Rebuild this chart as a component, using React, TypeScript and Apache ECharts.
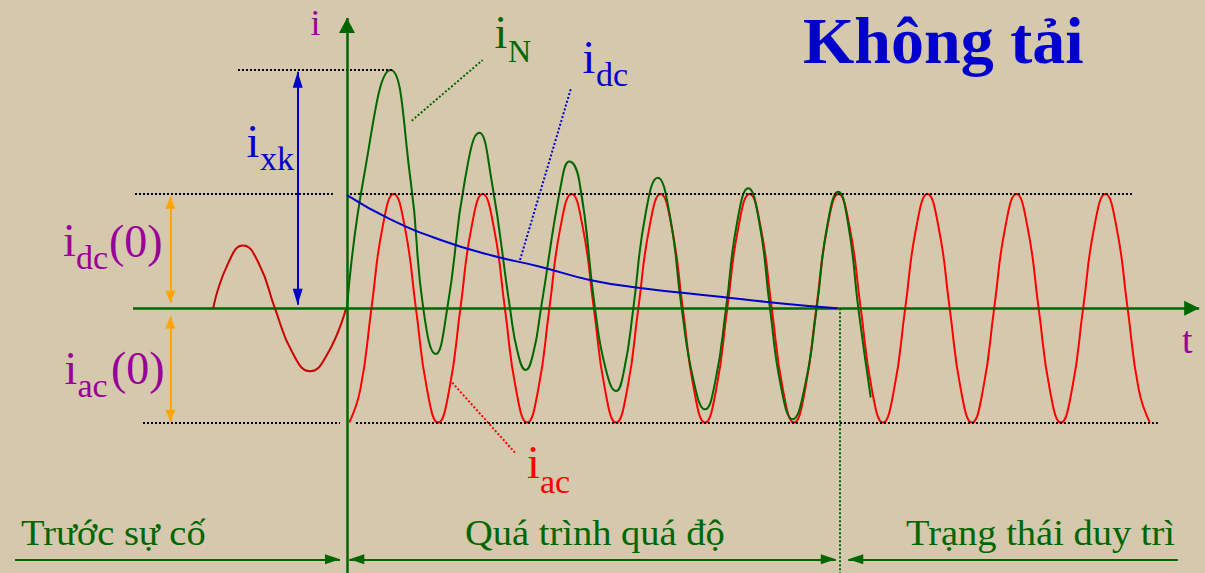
import { useEffect, useRef } from "react";
import * as echarts from "echarts";

// Time axis in ms (one period of the 50 Hz wave = 20 ms), current in per-unit of the AC amplitude.

// Load current before the fault
const preFaultTime = [-30.1, -26.75, -23.4, -19.8, -16.2, -12.25, -8.3, -4.25, -0.2];
const preFaultValue = [0, 0.39, 0.55, 0.39, 0, -0.39, -0.55, -0.39, 0];

// Symmetrical AC component i_ac
const iacTime = [
  0.5, 3, 5.5, 8, 10.5, 13, 15.5, 18, 20.5, 23, 25.5, 28, 30.5, 33, 35.5, 38, 40.5, 43, 45.5, 48, 50.5, 53,
  55.5, 58, 60.5, 63, 65.5, 68, 70.5, 73, 75.5, 78, 80.5, 83, 85.5, 88, 90.5, 93, 95.5, 98, 100.5, 103, 105.5,
  108, 110.5, 113, 115.5, 118, 120.5, 123, 125.5, 128, 130.5, 133, 135.5, 138, 140.5, 143, 145.5, 148, 150.5,
  153, 155.5, 158, 160.5, 163, 165.5, 168, 170.5, 173, 175.5, 178, 180.5,
];
const iacValue = [
  -1, -0.71, 0, 0.71, 1, 0.71, 0, -0.71,
  -1, -0.71, 0, 0.71, 1, 0.71, 0, -0.71,
  -1, -0.71, 0, 0.71, 1, 0.71, 0, -0.71,
  -1, -0.71, 0, 0.71, 1, 0.71, 0, -0.71,
  -1, -0.71, 0, 0.71, 1, 0.71, 0, -0.71,
  -1, -0.71, 0, 0.71, 1, 0.71, 0, -0.71,
  -1, -0.71, 0, 0.71, 1, 0.71, 0, -0.71,
  -1, -0.71, 0, 0.71, 1, 0.71, 0, -0.71,
  -1, -0.71, 0, 0.71, 1, 0.71, 0, -0.71,
  -1,
];

// Total short-circuit current i_N
const iNTime = [
  0, 3.66, 9.82, 14.3, 17.15, 19.94, 22.55, 26.5, 29.74, 32.5, 36.65, 38.4, 40.18, 41.9, 43.62, 48.3, 49.98,
  52.2, 55.76, 58.1, 60.48, 62.4, 64.37, 67.1, 69.85, 72.55, 75.25, 77.9, 80.49, 82.85, 85.21, 87.7, 90.22,
  92.7, 95.1, 97.6, 100.2, 102.9, 105.6, 108, 110.45, 112.7, 114.96, 117.74,
];
const iNValue = [
  0, 1.12, 2.085, 1.12, 0, -0.4, 0, 1.12, 1.536, 1.12, 0, -0.39, -0.54, -0.39, 0, 1.12, 1.283, 1.12, 0, -0.52,
  -0.724, -0.52, 0, 0.82, 1.143, 0.82, 0, -0.63, -0.884, -0.63, 0, 0.75, 1.05, 0.75, 0, -0.69, -0.971, -0.69, 0,
  0.73, 1.02, 0.73, 0, -0.779,
];

// Decaying DC component i_dc
const idcTime = [0, 9.67, 20.9, 32.15, 43.4, 54.6, 65.9, 83.9, 98.9, 110.2];
const idcValue = [0.99, 0.78, 0.6, 0.466, 0.364, 0.248, 0.178, 0.1, 0.038, 0];

const X_MIN = -78.01;
const X_MAX = 192.9;
const Y_MIN = -2.316;
const Y_MAX = 2.697;

const FONT = "'Liberation Serif', 'Times New Roman', serif";
const GREEN = "#006600";
const BLUE = "#0000CC";
const PURPLE = "#990099";
const RED = "#FF0000";
const ORANGE = "#FFA500";
const BG = "#D6C8AD";

const zip = (xs: number[], ys: number[]) => xs.map((x, i) => [x, ys[i]]);

type Pt = [number, number];

function seg(
  a: Pt,
  b: Pt,
  color: string,
  width: number,
  type: any,
  startHead?: [number, number],
  endHead?: [number, number]
) {
  return [
    {
      coord: a,
      symbol: startHead ? "triangle" : "none",
      symbolSize: startHead || 0,
      symbolOffset: [0, "50%"],
      lineStyle: { color, width, type, cap: "butt" },
    },
    {
      coord: b,
      symbol: endHead ? "triangle" : "none",
      symbolSize: endHead || 0,
      symbolOffset: [0, "50%"],
    },
  ];
}

function label(
  text: string,
  x: number,
  baseline: number,
  size: number,
  fill: string,
  weight = "normal",
  scaleX = 1
) {
  return {
    type: "text",
    x,
    y: baseline - 0.34 * size,
    scaleX,
    silent: true,
    style: {
      text,
      fill,
      fontSize: size,
      fontFamily: FONT,
      fontWeight: weight,
      align: "left",
      verticalAlign: "middle",
    },
  };
}

export default function App() {
  const ref = useRef<HTMLDivElement>(null);

  useEffect(() => {
    if (!ref.current) return;
    const chart = echarts.init(ref.current, undefined, { renderer: "svg" });

    const acTop = Math.max(...iacValue);
    const acBottom = Math.min(...iacValue);
    const ixk = Math.max(...iNValue);
    const bottomRow = -2.196;
    const dots = [2, 2];

    const marks = [
      // reference levels
      seg([-47.66, acTop], [-3.15, acTop], "#000", 2, dots),
      seg([0.67, acTop], [176.5, acTop], "#000", 2, dots),
      seg([-45.86, acBottom], [-1.57, acBottom], "#000", 2, dots),
      seg([2.02, acBottom], [182.3, acBottom], "#000", 2, dots),
      seg([-24.5, ixk], [10.1, ixk], "#000", 2, dots),
      // end of the transient
      seg([110.84, 0], [110.84, Y_MIN], GREEN, 2, dots),
      // axes
      seg([-48.1, 0], [191.6, 0], GREEN, 2.5, "solid", undefined, [15, 15]),
      seg([0, Y_MIN], [0, 2.54], GREEN, 2.5, "solid", undefined, [16, 15]),
      // magnitude arrows
      seg([-11.08, 0.03], [-11.08, ixk - 0.015], BLUE, 2, "solid", [10, 16], [10, 16]),
      seg([-39.7, 0.049], [-39.7, acTop - 0.024], ORANGE, 2, "solid", [10, 12], [10, 12]),
      seg([-39.7, -0.073], [-39.7, acBottom + 0.008], ORANGE, 2, "solid", [10, 12], [10, 12]),
      // stage arrows
      seg([-74.64, bottomRow], [-1.57, bottomRow], GREEN, 2, "solid", undefined, [10, 15]),
      seg([0.52, bottomRow], [109.9, bottomRow], GREEN, 2, "solid", [10, 15], [10, 15]),
      seg([112.7, bottomRow], [186.8, bottomRow], GREEN, 2, "solid", [10, 15], undefined),
      // leaders to the curve names
      seg([14.55, 1.641], [30.5, 2.172], GREEN, 2, dots),
      seg([38.9, 0.423], [50.3, 1.916], BLUE, 2, dots),
      seg([23.67, -0.651], [37.77, -1.263], RED, 2, dots),
    ];

    const curve = (name: string, data: number[][], color: string, z: number) => ({
      name,
      type: "line",
      data,
      smooth: 0.5,
      showSymbol: false,
      symbol: "none",
      silent: true,
      z,
      lineStyle: { color, width: 2 },
    });

    chart.setOption({
      animation: false,
      backgroundColor: BG,
      grid: { left: 0, right: 0, top: 0, bottom: 0 },
      xAxis: { type: "value", min: X_MIN, max: X_MAX, show: false },
      yAxis: { type: "value", min: Y_MIN, max: Y_MAX, show: false },
      series: [
        curve("preFault", zip(preFaultTime, preFaultValue), "#CC0000", 2),
        curve("iac", zip(iacTime, iacValue), RED, 3),
        curve("iN", zip(iNTime, iNValue), GREEN, 4),
        curve("idc", zip(idcTime, idcValue), BLUE, 5),
        {
          name: "annotations",
          type: "line",
          data: [],
          silent: true,
          z: 6,
          markLine: {
            silent: true,
            animation: false,
            label: { show: false },
            emphasis: { disabled: true },
            data: marks,
          },
        },
      ],
      graphic: [
        label("i", 310.5, 35, 36, PURPLE),
        label("i", 494.5, 48, 46, GREEN),
        label("N", 508, 61.7, 32, GREEN),
        label("i", 582.5, 72.7, 46, BLUE),
        label("dc", 596, 86, 34, BLUE),
        label("i", 246.5, 156.7, 46, BLUE),
        label("xk", 260, 170, 34, BLUE),
        label("i", 63, 256, 46, PURPLE),
        label("dc", 76, 269.3, 34, PURPLE),
        label("(0)", 109, 257, 46, PURPLE),
        label("i", 64.5, 384, 46, PURPLE),
        label("ac", 77.5, 396.7, 34, PURPLE),
        label("(0)", 111, 384, 46, PURPLE),
        label("i", 527, 478, 46, RED),
        label("ac", 540, 492.7, 34, RED),
        label("t", 1182, 352.7, 38, PURPLE),
        label("Không tải", 803, 63, 66, BLUE, "bold"),
        label("Trước sự cố", 21, 545, 35, GREEN, "normal", 1.1),
        label("Quá trình quá độ", 465, 545, 35, GREEN, "normal", 1.1),
        label("Trạng thái duy trì", 906, 545, 35, GREEN, "normal", 1.1),
      ],
    });

    return () => chart.dispose();
  }, []);

  return (
    <div
      ref={ref}
      style={{ position: "fixed", left: 0, top: 0, width: 1205, height: 573 }}
    />
  );
}
